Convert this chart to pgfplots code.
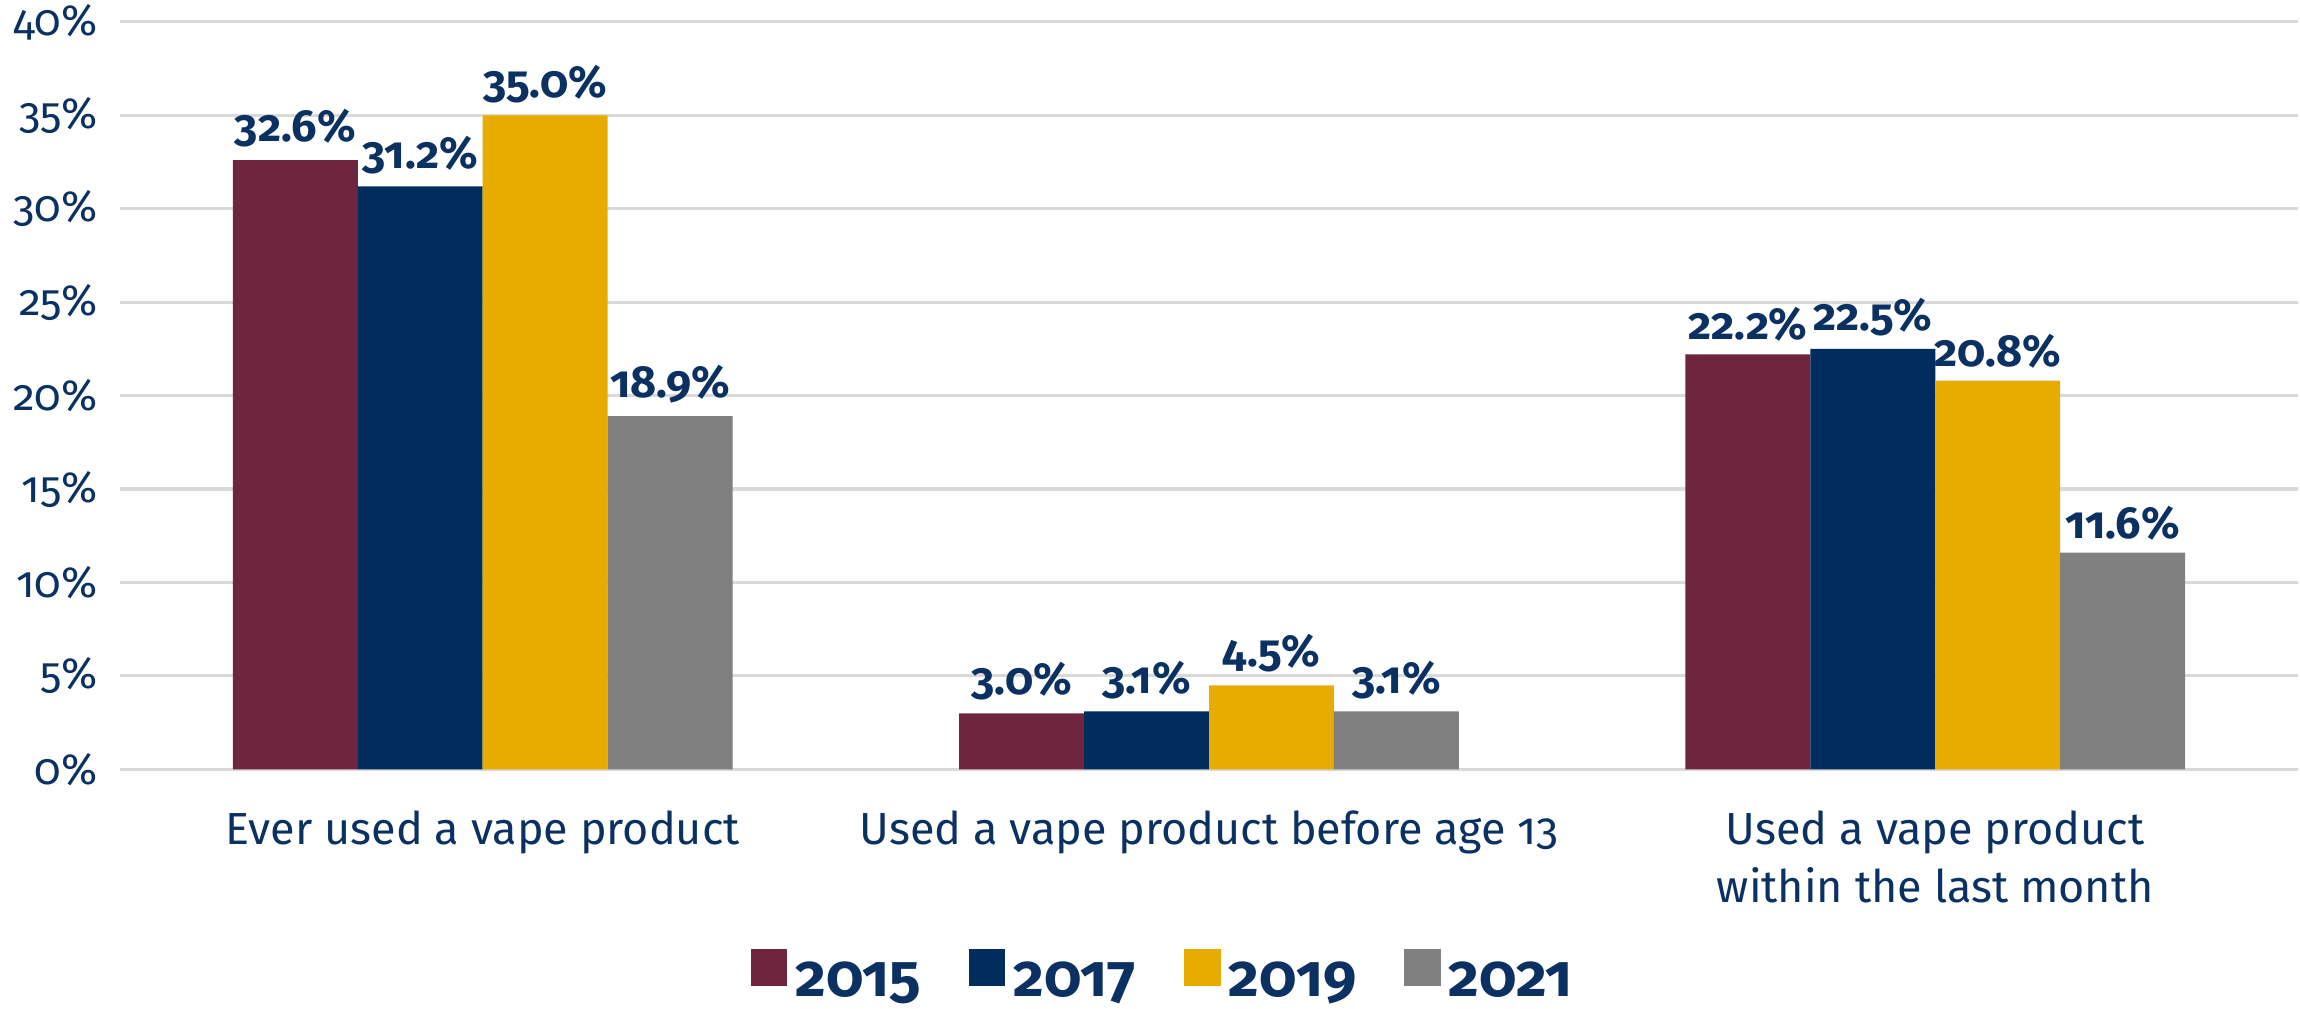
\documentclass[border=0pt]{standalone}
\usepackage{fontspec}
\setmainfont[Numbers=OldStyle]{Fira Sans}
\usepackage{pgfplots}
\pgfplotsset{compat=1.18}
\definecolor{maroon}{HTML}{6D263D}
\definecolor{navy}{HTML}{002D5E}
\definecolor{gold}{HTML}{E8AC00}
\definecolor{grayb}{HTML}{808080}
\definecolor{txt}{HTML}{0B3163}
\definecolor{gridc}{HTML}{D9D9D9}

\begin{document}
\begin{tikzpicture}
\begin{axis}[
  scale only axis, width=548pt, height=188pt,
  ybar=0pt, bar width=0.172,
  xmin=-0.5, xmax=2.5, ymin=0, ymax=40,
  xtick={0,1,2},
  xticklabels={Ever used a vape product, Used a vape product before age 13, {Used a vape product\\within the last month}},
  ytick={0,5,...,40},
  yticklabels={0\%,5\%,10\%,15\%,20\%,25\%,30\%,35\%,40\%},
  axis line style={draw=none},
  major tick length=0pt,
  ymajorgrids, grid style={gridc, line width=0.8pt},
  x tick label style={font=\fontsize{11.3}{14.6}\selectfont, text=txt, align=center, yshift=-7pt},
  y tick label style={font=\fontsize{11}{14}\selectfont, text=txt, xshift=-2pt, inner ysep=1pt},
  nodes near coords={\pgfmathprintnumber[fixed,fixed zerofill,precision=1,assume math mode=true]{\pgfplotspointmeta}\%},
  every node near coord/.append style={font=\fontsize{11.3}{14}\selectfont\bfseries, text=txt, inner sep=3pt},
  legend style={at={(0.48,-0.28)}, anchor=center, legend columns=4, draw=none, inner sep=0pt,
    nodes={inner ysep=1.5pt},
    font=\fontsize{15}{18}\selectfont\bfseries, text=txt,
    /tikz/every even column/.append style={column sep=10pt}},
  legend image code/.code={\fill[#1] (0pt,-1pt) rectangle (9.25pt,8.25pt);},
]
\addplot[fill=maroon, draw=none] coordinates {(0,32.6) (1,3.0) (2,22.2)};
\addlegendentry{2015}
\addplot[fill=navy, draw=none] coordinates {(0,31.2) (1,3.1) (2,22.5)};
\addlegendentry{2017}
\addplot[fill=gold, draw=none] coordinates {(0,35.0) (1,4.5) (2,20.8)};
\addlegendentry{2019}
\addplot[fill=grayb, draw=none] coordinates {(0,18.9) (1,3.1) (2,11.6)};
\addlegendentry{2021}
\end{axis}
\end{tikzpicture}
\end{document}
